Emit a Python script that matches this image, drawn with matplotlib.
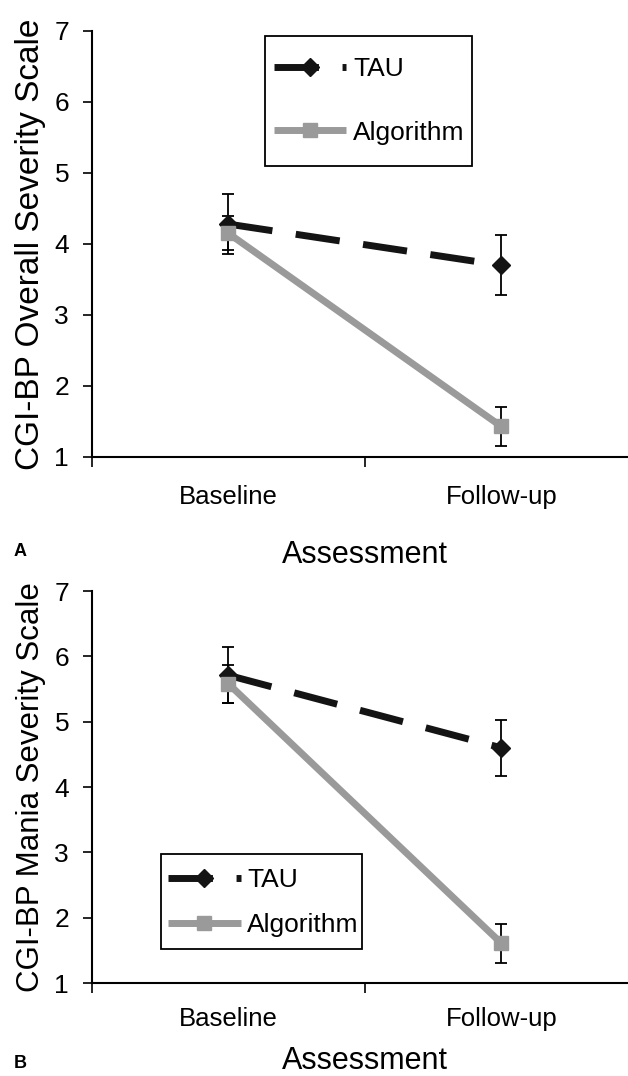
import numpy as np
import matplotlib.pyplot as plt
from matplotlib.patches import Rectangle

plt.rcParams.update({
    "font.family": ["Liberation Sans", "DejaVu Sans"],
    "font.size": 18,
    "xtick.labelsize": 18.5,
    "ytick.labelsize": 19,
})

assessments = ["Baseline", "Follow-up"]

# panel A: CGI-BP overall severity
tau_a = [4.28, 3.70]
tau_a_err = [0.42, 0.42]
alg_a = [4.15, 1.43]
alg_a_err = [0.24, 0.27]

# panel B: CGI-BP mania severity
tau_b = [5.71, 4.60]
tau_b_err = [0.43, 0.43]
alg_b = [5.58, 1.61]
alg_b_err = [0.29, 0.30]

TAU_COL = "#141414"
ALG_COL = "#9a9a9a"


def plot_panel(ax, tau, tau_err, alg, alg_err, ylabel, ylabel_size, xpad, labpad):
    x = np.arange(len(assessments)) + 0.5
    ax.errorbar(x, tau, yerr=tau_err, fmt="none", ecolor="black",
                elinewidth=1.3, capsize=4.5, capthick=1.3, zorder=2)
    ax.errorbar(x, alg, yerr=alg_err, fmt="none", ecolor="black",
                elinewidth=1.3, capsize=4.5, capthick=1.3, zorder=2)
    ax.plot(x, tau, color=TAU_COL, lw=5, dashes=(6.4, 3.4),
            marker="D", ms=9, mfc=TAU_COL, mec=TAU_COL, label="TAU", zorder=3)
    ax.plot(x, alg, color=ALG_COL, lw=5, solid_capstyle="butt",
            marker="s", ms=9.5, mfc=ALG_COL, mec=ALG_COL, label="Algorithm", zorder=4)
    ax.set_xlim(0, 2)
    ax.set_ylim(1, 7)
    ax.set_xticks([0, 1, 2])
    ax.set_xticklabels([])
    ax.set_xticks(x, minor=True)
    ax.set_xticklabels(assessments, minor=True)
    ax.tick_params(axis="x", which="major", direction="out", length=7, width=1.2)
    ax.tick_params(axis="x", which="minor", length=0, pad=xpad)
    ax.tick_params(axis="y", direction="out", length=6.5, width=1.2, pad=10)
    ax.set_yticks(range(1, 8))
    for s in ["top", "right"]:
        ax.spines[s].set_visible(False)
    for s in ["left", "bottom"]:
        ax.spines[s].set_linewidth(1.5)
    ax.set_ylabel(ylabel, fontsize=ylabel_size, labelpad=6)
    ax.set_xlabel("Assessment", fontsize=22, labelpad=labpad)


def boxed_legend(ax, anchor, box, spacing):
    # excel-style legend: content placed by anchor, frame drawn separately
    ax.add_patch(Rectangle(box[:2], box[2], box[3], transform=ax.transAxes,
                           facecolor="white", edgecolor="black", lw=1.3,
                           zorder=4.9, clip_on=False))
    leg = ax.legend(loc="upper left", bbox_to_anchor=anchor, borderaxespad=0,
                    borderpad=0, fontsize=19, handlelength=2.75,
                    labelspacing=spacing, handletextpad=0.25, frameon=False)
    leg.set_zorder(5)


fig = plt.figure(figsize=(6.28, 10.76), dpi=100)
ax_a = fig.add_axes([0.1465, 0.5753, 0.869, 0.3959])
ax_b = fig.add_axes([0.1465, 0.0864, 0.869, 0.3643])

plot_panel(ax_a, tau_a, tau_a_err, alg_a, alg_a_err,
           "CGI-BP Overall Severity Scale", 24, 20, 22.5)
plot_panel(ax_b, tau_b, tau_b_err, alg_b, alg_b_err,
           "CGI-BP Mania Severity Scale", 22.5, 17, 11)

boxed_legend(ax_a, (0.3333, 0.939), (0.317, 0.683, 0.379, 0.305), 1.5)
boxed_legend(ax_b, (0.1392, 0.2934), (0.1264, 0.0867, 0.368, 0.2423), 0.8)

fig.text(0.022, 1 - 552 / 1076, "A", fontsize=13, fontweight="bold", va="center")
fig.text(0.022, 1 - 1064 / 1076, "B", fontsize=13, fontweight="bold", va="center")

plt.savefig("out.png")
